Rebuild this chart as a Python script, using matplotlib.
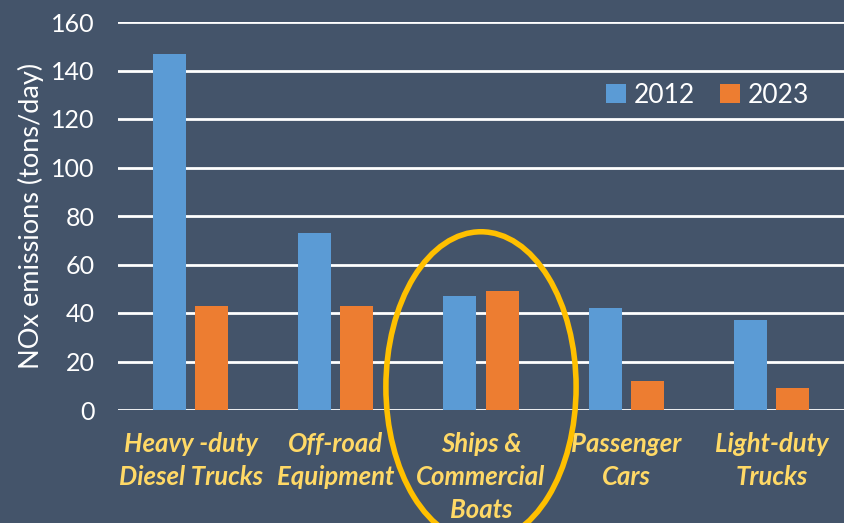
import numpy as np
import matplotlib.pyplot as plt
from matplotlib.patches import Ellipse

categories = ["Heavy -duty\nDiesel Trucks", "Off-road\nEquipment", "Ships &\nCommercial\nBoats",
              "Passenger\nCars", "Light-duty\nTrucks"]
vals_2012 = [147, 73, 47, 42, 37]
vals_2023 = [43, 43, 49, 12, 9]

bg = "#44546A"
blue = "#5B9BD5"
orange = "#ED7D31"
gold = "#FFD966"

plt.rcParams['font.family'] = ['Lato', 'DejaVu Sans']

fig = plt.figure(figsize=(8.44, 5.23), dpi=100, facecolor=bg)
ax = fig.add_axes([118 / 844, 1 - 410 / 523, 1 - 118 / 844, (410 - 22) / 523])
ax.set_facecolor(bg)

x = np.arange(len(categories))
w = 0.227
off = 0.145
ax.bar(x - off, vals_2012, w, color=blue, label="2012", zorder=3)
ax.bar(x + off, vals_2023, w, color=orange, label="2023", zorder=3)

ax.set_xlim(-0.5, 4.5)
ax.set_ylim(0, 160)
ax.set_yticks(range(0, 161, 20))
ax.yaxis.grid(True, color="white", linewidth=2, zorder=0)
ax.set_axisbelow(True)
for s in ax.spines.values():
    s.set_visible(False)

ax.tick_params(axis="y", length=0, pad=17, labelcolor="white", labelsize=18)
ax.set_xticks(x)
ax.set_xticklabels(categories, color=gold, fontsize=18.5, fontweight="bold",
                   fontstyle="italic", va="top", linespacing=1.45)
ax.tick_params(axis="x", length=0, pad=16)

ax.set_ylabel("NOx emissions (tons/day)", color="white", fontsize=19.5, labelpad=5)

ax.legend(loc="upper right", bbox_to_anchor=(0.985, 0.905), ncol=2, frameon=False,
          fontsize=19, labelcolor="white", handlelength=0.75, handleheight=0.75,
          columnspacing=0.95, handletextpad=0.3)

ell = Ellipse((2, 9.5), 1.31, 128, fill=False, edgecolor="#FFC000", linewidth=4,
              clip_on=False, zorder=5)
ax.add_patch(ell)

fig.savefig("out.png", dpi=100, facecolor=bg)
